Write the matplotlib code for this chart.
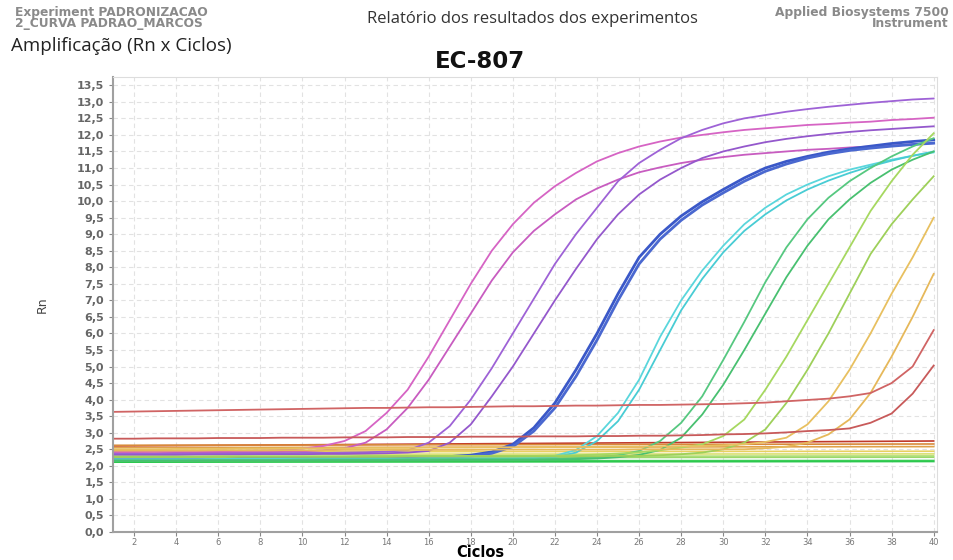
import matplotlib
matplotlib.use('Agg')
from matplotlib import pyplot as plt
from matplotlib.ticker import MultipleLocator, FuncFormatter
import numpy as np

cycles = np.arange(1, 41)

# amplification curves (Rn per cycle)
pink_a = [2.42, 2.42, 2.43, 2.43, 2.44, 2.44, 2.45, 2.46, 2.48, 2.52,
          2.60, 2.75, 3.05, 3.60, 4.30, 5.30, 6.40, 7.50, 8.50, 9.30,
          9.95, 10.45, 10.85, 11.20, 11.45, 11.65, 11.80, 11.92, 12.00, 12.08,
          12.15, 12.20, 12.25, 12.30, 12.33, 12.37, 12.40, 12.45, 12.48, 12.52]
pink_b = [2.38, 2.38, 2.38, 2.39, 2.39, 2.40, 2.40, 2.41, 2.42, 2.44,
          2.47, 2.53, 2.70, 3.10, 3.75, 4.60, 5.60, 6.60, 7.60, 8.45,
          9.10, 9.60, 10.05, 10.38, 10.65, 10.87, 11.02, 11.15, 11.25, 11.33,
          11.40, 11.45, 11.50, 11.55, 11.58, 11.62, 11.65, 11.68, 11.72, 11.75]
purple_a = [2.36, 2.36, 2.36, 2.37, 2.37, 2.37, 2.38, 2.38, 2.38, 2.39,
            2.39, 2.40, 2.41, 2.43, 2.47, 2.70, 3.20, 4.00, 4.95, 6.00,
            7.05, 8.10, 9.00, 9.80, 10.60, 11.15, 11.55, 11.90, 12.15, 12.35,
            12.50, 12.60, 12.70, 12.78, 12.85, 12.91, 12.97, 13.02, 13.07, 13.10]
purple_b = [2.33, 2.33, 2.33, 2.33, 2.34, 2.34, 2.34, 2.35, 2.35, 2.35,
            2.36, 2.36, 2.37, 2.38, 2.40, 2.45, 2.70, 3.25, 4.10, 5.00,
            6.00, 7.00, 7.95, 8.85, 9.60, 10.20, 10.65, 11.00, 11.30, 11.50,
            11.65, 11.78, 11.88, 11.96, 12.03, 12.09, 12.14, 12.18, 12.22, 12.26]
blue_a = [2.22, 2.22, 2.22, 2.22, 2.23, 2.23, 2.23, 2.24, 2.24, 2.24,
          2.25, 2.25, 2.25, 2.26, 2.26, 2.27, 2.28, 2.32, 2.42, 2.65,
          3.15, 3.90, 4.90, 6.00, 7.20, 8.30, 9.00, 9.55, 9.98, 10.35,
          10.70, 11.00, 11.20, 11.35, 11.48, 11.58, 11.66, 11.74, 11.80, 11.85]
blue_b = [2.20, 2.20, 2.20, 2.21, 2.21, 2.21, 2.22, 2.22, 2.22, 2.23,
          2.23, 2.23, 2.24, 2.24, 2.25, 2.25, 2.26, 2.29, 2.38, 2.58,
          3.05, 3.75, 4.70, 5.80, 7.00, 8.10, 8.85, 9.42, 9.88, 10.25,
          10.60, 10.90, 11.12, 11.30, 11.43, 11.53, 11.60, 11.66, 11.71, 11.75]
cyan_a = [2.20, 2.20, 2.20, 2.20, 2.20, 2.21, 2.21, 2.21, 2.21, 2.21,
          2.22, 2.22, 2.22, 2.22, 2.22, 2.23, 2.23, 2.23, 2.23, 2.23,
          2.24, 2.30, 2.48, 2.90, 3.60, 4.60, 5.90, 7.00, 7.90, 8.65,
          9.30, 9.80, 10.20, 10.50, 10.75, 10.95, 11.10, 11.25, 11.37, 11.47]
cyan_b = [2.18, 2.18, 2.18, 2.18, 2.18, 2.19, 2.19, 2.19, 2.19, 2.19,
          2.20, 2.20, 2.20, 2.20, 2.20, 2.21, 2.21, 2.21, 2.21, 2.21,
          2.22, 2.26, 2.40, 2.75, 3.35, 4.30, 5.50, 6.70, 7.65, 8.45,
          9.10, 9.60, 10.02, 10.35, 10.62, 10.85, 11.05, 11.22, 11.37, 11.50]
green_a = [2.17, 2.17, 2.17, 2.17, 2.18, 2.18, 2.18, 2.18, 2.18, 2.19,
           2.19, 2.19, 2.19, 2.19, 2.20, 2.20, 2.20, 2.20, 2.20, 2.20,
           2.20, 2.21, 2.23, 2.26, 2.32, 2.45, 2.75, 3.30, 4.10, 5.20,
           6.35, 7.55, 8.60, 9.45, 10.10, 10.60, 11.00, 11.35, 11.65, 11.90]
green_b = [2.15, 2.15, 2.15, 2.15, 2.15, 2.16, 2.16, 2.16, 2.16, 2.16,
           2.17, 2.17, 2.17, 2.17, 2.17, 2.17, 2.18, 2.18, 2.18, 2.18,
           2.18, 2.19, 2.20, 2.22, 2.26, 2.33, 2.48, 2.85, 3.55, 4.45,
           5.50, 6.60, 7.70, 8.65, 9.45, 10.05, 10.55, 10.95, 11.25, 11.50]
lime_a = [2.28, 2.28, 2.28, 2.28, 2.28, 2.29, 2.29, 2.29, 2.29, 2.29,
          2.29, 2.29, 2.30, 2.30, 2.30, 2.30, 2.30, 2.30, 2.30, 2.30,
          2.30, 2.31, 2.32, 2.34, 2.37, 2.41, 2.47, 2.55, 2.65, 2.90,
          3.40, 4.30, 5.30, 6.40, 7.50, 8.60, 9.70, 10.60, 11.40, 12.05]
lime_b = [2.26, 2.26, 2.26, 2.26, 2.26, 2.26, 2.27, 2.27, 2.27, 2.27,
          2.27, 2.27, 2.27, 2.27, 2.28, 2.28, 2.28, 2.28, 2.28, 2.28,
          2.28, 2.28, 2.29, 2.29, 2.30, 2.30, 2.32, 2.35, 2.40, 2.50,
          2.70, 3.10, 3.90, 4.90, 6.00, 7.20, 8.40, 9.30, 10.05, 10.75]
amber_a = [2.50, 2.50, 2.50, 2.51, 2.51, 2.51, 2.52, 2.52, 2.52, 2.53,
           2.53, 2.53, 2.54, 2.54, 2.54, 2.55, 2.55, 2.55, 2.56, 2.56,
           2.56, 2.57, 2.57, 2.57, 2.58, 2.58, 2.59, 2.59, 2.60, 2.62,
           2.65, 2.72, 2.85, 3.25, 3.95, 4.90, 6.00, 7.20, 8.30, 9.50]
amber_b = [2.46, 2.46, 2.46, 2.46, 2.46, 2.47, 2.47, 2.47, 2.47, 2.47,
           2.47, 2.48, 2.48, 2.48, 2.48, 2.48, 2.48, 2.48, 2.49, 2.49,
           2.49, 2.49, 2.49, 2.49, 2.49, 2.50, 2.50, 2.50, 2.50, 2.50,
           2.50, 2.53, 2.58, 2.70, 2.95, 3.40, 4.20, 5.30, 6.50, 7.80]
red_a = [3.63, 3.64, 3.65, 3.66, 3.67, 3.68, 3.69, 3.70, 3.71, 3.72,
         3.73, 3.74, 3.75, 3.75, 3.76, 3.77, 3.77, 3.78, 3.79, 3.80,
         3.80, 3.81, 3.82, 3.82, 3.83, 3.84, 3.84, 3.85, 3.86, 3.87,
         3.89, 3.91, 3.95, 3.99, 4.03, 4.10, 4.20, 4.50, 5.00, 6.10]
red_b = [2.82, 2.82, 2.83, 2.83, 2.83, 2.84, 2.84, 2.84, 2.85, 2.85,
         2.85, 2.86, 2.86, 2.86, 2.87, 2.87, 2.87, 2.88, 2.88, 2.88,
         2.89, 2.89, 2.89, 2.90, 2.90, 2.91, 2.91, 2.92, 2.93, 2.95,
         2.96, 2.98, 3.01, 3.05, 3.08, 3.13, 3.30, 3.58, 4.18, 5.03]

# flat (no amplification) wells: start and end level
flat_start = [2.60, 2.62, 2.55, 2.42, 2.35, 2.28, 2.24, 2.15, 2.11]
flat_end = [2.75, 2.66, 2.58, 2.44, 2.36, 2.30, 2.26, 2.16, 2.13]
flat_colors = ['#c0392b', '#d98a3a', '#e0a24a', '#e8d060', '#d8e070',
               '#b5e07a', '#9ad86a', '#3fcf5a', '#2cc84e']

curves = [
    (pink_a, '#d664c4', 1.3), (pink_b, '#c85cc0', 1.3),
    (purple_a, '#9e62d6', 1.3), (purple_b, '#9458cc', 1.3),
    (blue_a, '#3a58c8', 2.0), (blue_b, '#4a68d0', 2.0),
    (cyan_a, '#5ad6dc', 1.3), (cyan_b, '#48ccd4', 1.3),
    (green_a, '#56c880', 1.3), (green_b, '#48c070', 1.3),
    (lime_a, '#a6d860', 1.3), (lime_b, '#9ed05a', 1.3),
    (amber_a, '#e8c060', 1.3), (amber_b, '#e6b85a', 1.3),
    (red_a, '#d06464', 1.3), (red_b, '#c85a5a', 1.3),
]

fig = plt.figure(figsize=(9.54, 5.6), dpi=100)
ax = fig.add_axes([0.1185, 0.05, 0.8635, 0.8125])

for s, e, c in zip(flat_start, flat_end, flat_colors):
    ax.plot(cycles, np.linspace(s, e, len(cycles)), color=c, lw=1.2)
for vals, c, lw in curves:
    ax.plot(cycles, vals, color=c, lw=lw)

ax.set_xlim(1, 40.15)
ax.set_ylim(0, 13.75)
ax.xaxis.set_major_locator(MultipleLocator(2))
ax.yaxis.set_major_locator(MultipleLocator(0.5))
ax.yaxis.set_major_formatter(FuncFormatter(lambda v, p: f'{v:.1f}'.replace('.', ',')))
ax.grid(True, color='#e2e2e2', ls=(0, (4, 3)), lw=0.8)
ax.set_axisbelow(True)
ax.tick_params(axis='y', labelsize=8, colors='#888888', labelcolor='#666666', length=3)
ax.tick_params(axis='x', labelsize=6, colors='#888888', labelcolor='#777777',
               length=3, pad=1)
for lab in ax.get_yticklabels():
    lab.set_fontweight('bold')
for side in ['left', 'bottom']:
    ax.spines[side].set_color('#a0a0a0')
    ax.spines[side].set_linewidth(1.5)
for side in ['top', 'right']:
    ax.spines[side].set_color('#dddddd')

ax.set_ylabel('Rn', fontsize=9, color='#444444', labelpad=20)
fig.text(480 / 954, 1 - 552.5 / 560, 'Ciclos', fontsize=10.5, fontweight='bold',
         ha='center', va='center')
fig.text(480 / 954, 1 - 62 / 560, 'EC-807', fontsize=16.5, fontweight='bold',
         ha='center', va='center', color='#111111')

fig.text(0.016, 0.99, 'Experiment PADRONIZACAO\n2_CURVA PADRAO_MARCOS', fontsize=8.8,
         fontweight='bold', color='#8a8a8a', va='top', ha='left', linespacing=0.88)
fig.text(0.558, 0.966, 'Relatório dos resultados dos experimentos', fontsize=12,
         color='#333333', va='center', ha='center', family='Open Sans')
fig.text(0.994, 0.99, 'Applied Biosystems 7500\nInstrument', fontsize=8.8,
         fontweight='bold', color='#8a8a8a', va='top', ha='right',
         multialignment='right', linespacing=0.88)
fig.text(0.012, 0.918, 'Amplificação (Rn x Ciclos)', fontsize=13.5, color='#222222',
         va='center', ha='left', family='Open Sans')

fig.savefig('out.png', dpi=100)
